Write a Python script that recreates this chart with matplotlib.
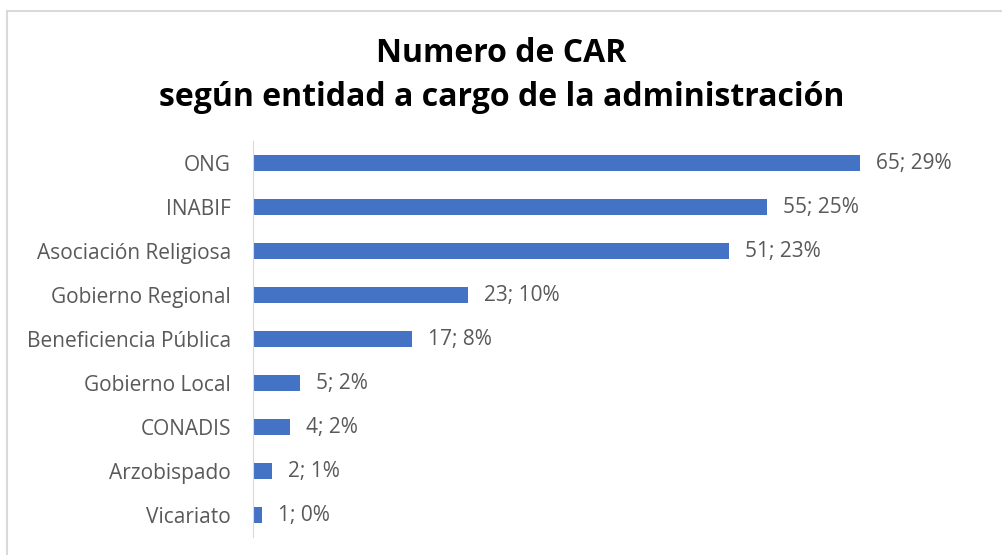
import matplotlib.pyplot as plt
from matplotlib.patches import Rectangle

categorias = ['Vicariato', 'Arzobispado', 'CONADIS', 'Gobierno Local',
              'Beneficiencia Pública', 'Gobierno Regional',
              'Asociación Religiosa', 'INABIF', 'ONG']
valores = [1, 2, 4, 5, 17, 23, 51, 55, 65]
porcentajes = [0, 1, 2, 2, 8, 10, 23, 25, 29]

plt.rcParams['font.family'] = ['Open Sans', 'DejaVu Sans']
gris = '#595959'

fig = plt.figure(figsize=(10.03, 5.55), dpi=100)

# marco del grafico
fig.patches.append(Rectangle((7 / 1003, -0.05), 1.1, (555 - 11) / 555 + 0.05,
                             transform=fig.transFigure, fill=False,
                             edgecolor='#d9d9d9', linewidth=1.5))

ax = fig.add_axes([253 / 1003, 18 / 555, 707 / 1003, 396 / 555])
pos = range(len(categorias))
ax.barh(pos, valores, height=0.36, color='#4472c4')
ax.set_xlim(0, 707 / 9.34)
ax.set_ylim(-0.5, 8.5)
ax.set_yticks(list(pos))
ax.set_yticklabels(categorias, fontsize=15, color=gris)
ax.tick_params(axis='y', length=0, pad=16)
ax.set_xticks([])
for s in ['top', 'right', 'bottom']:
    ax.spines[s].set_visible(False)
ax.spines['left'].set_color('#d9d9d9')

for y, v, p in zip(pos, valores, porcentajes):
    ax.text(v + 1.7, y, f'{v}; {p}%', va='center', ha='left',
            fontsize=15, color=gris)

fig.text(0.5, 1 - 54 / 555, 'Numero de CAR', ha='center', va='center',
         fontsize=23, fontweight='bold', color='black')
fig.text(0.5, 1 - 97 / 555, 'según entidad a cargo de la administración',
         ha='center', va='center', fontsize=23, fontweight='bold', color='black')

fig.savefig('out.png', dpi=100)
